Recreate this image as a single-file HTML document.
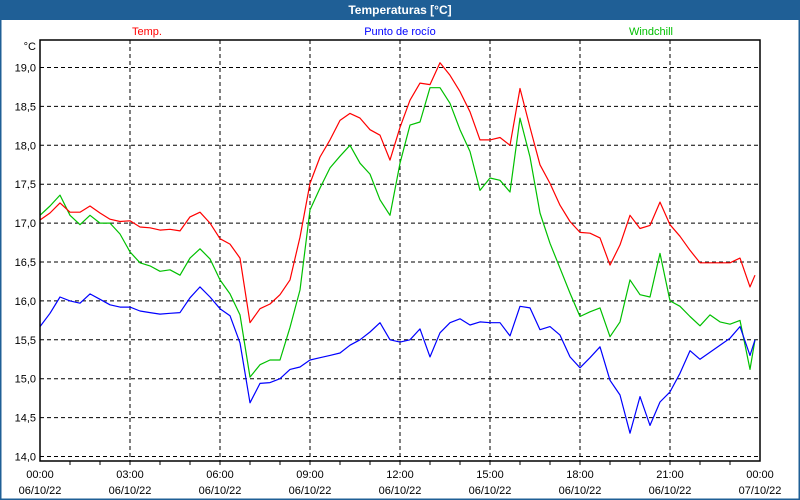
<!DOCTYPE html>
<html><head><meta charset="utf-8"><style>
html,body{margin:0;padding:0;background:#fff}
svg{display:block;font-family:"Liberation Sans",Tahoma,sans-serif}
</style></head><body>
<svg id="chart" width="800" height="500" viewBox="0 0 800 500">
<rect x="0" y="0" width="800" height="500" fill="#fff"/>
<rect x="0.5" y="0.5" width="799" height="499" fill="none" stroke="#1f5f96" stroke-width="2"/>
<rect x="0" y="0" width="800" height="20" fill="#1f5f96"/>
<text x="400" y="14" text-anchor="middle" font-size="12" font-weight="bold" fill="#fff">Temperaturas [°C]</text>
<text x="147" y="35" text-anchor="middle" font-size="11" fill="#ff0000">Temp.</text>
<text x="400" y="35" text-anchor="middle" font-size="11" fill="#0000ff">Punto de rocío</text>
<text x="651" y="35" text-anchor="middle" font-size="11" fill="#00c000">Windchill</text>
<text x="36" y="50" text-anchor="end" font-size="11" fill="#000">°C</text>
<g id="grid"></g>
<g id="series"></g>
<g id="axes"></g>
</svg>
<script>
const times = [];
for (let m = 0; m <= 1420; m += 20) times.push(m);
times.push(1430);
const tempValues = [17.04,17.13,17.26,17.14,17.14,17.22,17.13,17.05,17.02,17.03,16.95,16.94,16.91,16.92,16.9,17.08,17.14,17.0,16.8,16.73,16.55,15.72,15.9,15.96,16.08,16.27,16.82,17.51,17.85,18.07,18.32,18.41,18.35,18.2,18.13,17.81,18.23,18.58,18.8,18.78,19.06,18.9,18.69,18.43,18.07,18.07,18.1,18.0,18.73,18.23,17.75,17.51,17.23,17.02,16.88,16.87,16.81,16.46,16.72,17.1,16.93,16.97,17.27,16.98,16.83,16.65,16.49,16.49,16.49,16.49,16.55,16.18,16.33];
const dewValues = [15.67,15.84,16.05,16.0,15.97,16.09,16.02,15.95,15.92,15.92,15.87,15.85,15.83,15.84,15.85,16.04,16.18,16.05,15.9,15.81,15.46,14.69,14.94,14.95,15.0,15.12,15.15,15.24,15.27,15.3,15.33,15.43,15.5,15.6,15.72,15.5,15.47,15.5,15.64,15.28,15.59,15.72,15.77,15.69,15.73,15.72,15.72,15.55,15.93,15.91,15.63,15.67,15.56,15.28,15.14,15.27,15.41,14.98,14.79,14.3,14.77,14.4,14.7,14.83,15.07,15.36,15.25,15.34,15.43,15.52,15.67,15.3,15.5];
const windValues = [17.1,17.22,17.36,17.1,16.98,17.1,17.0,17.0,16.86,16.63,16.49,16.45,16.38,16.4,16.33,16.55,16.67,16.54,16.27,16.09,15.82,15.02,15.18,15.24,15.24,15.66,16.14,17.17,17.45,17.71,17.86,18.0,17.77,17.63,17.3,17.1,17.77,18.26,18.3,18.74,18.74,18.54,18.2,17.92,17.42,17.58,17.55,17.4,18.35,17.85,17.13,16.74,16.42,16.1,15.8,15.86,15.91,15.54,15.73,16.27,16.08,16.05,16.61,16.0,15.93,15.8,15.68,15.82,15.73,15.7,15.75,15.12,15.5];
const yTicks = [14.0,14.5,15.0,15.5,16.0,16.5,17.0,17.5,18.0,18.5,19.0];
const yTickLabels = ["14,0","14,5","15,0","15,5","16,0","16,5","17,0","17,5","18,0","18,5","19,0"];
const xTicks = [0,180,360,540,720,900,1080,1260,1440];
const xTimeLabels = ["00:00","03:00","06:00","09:00","12:00","15:00","18:00","21:00","00:00"];
const xDateLabels = ["06/10/22","06/10/22","06/10/22","06/10/22","06/10/22","06/10/22","06/10/22","06/10/22","07/10/22"];

const NS = "http://www.w3.org/2000/svg";
const L = 40, R = 760, T = 40, B = 461;
function xs(m){ return L + (m/1440)*(R-L); }
function ys(v){ return 456.5 - (v-14)*77.8; }
function mk(tag, attrs, parent){ const e=document.createElementNS(NS,tag); for(const k in attrs) e.setAttribute(k,attrs[k]); parent.appendChild(e); return e; }

const grid = document.getElementById('grid');
yTicks.forEach((v,i)=>{
  const ln = mk('line',{x1:L,x2:R,y1:ys(v),y2:ys(v),stroke:'#000','stroke-width':1,'stroke-dasharray':'4,3'},grid);
  
  
  const t = mk('text',{x:36,y:ys(v)+4,'text-anchor':'end','font-size':11,fill:'#000'},grid);
  t.textContent = yTickLabels[i];
  
  
});
xTicks.forEach((m,i)=>{
  if(i>0 && i<xTicks.length-1){
    const ln = mk('line',{x1:xs(m),x2:xs(m),y1:T,y2:B,stroke:'#000','stroke-width':1,'stroke-dasharray':'4,3'},grid);
    
    
  }
  const t1 = mk('text',{x:xs(m),y:478,'text-anchor':'middle','font-size':11,fill:'#000'},grid);
  t1.textContent = xTimeLabels[i];
  
  
  const t2 = mk('text',{x:xs(m),y:494,'text-anchor':'middle','font-size':11,fill:'#000'},grid);
  t2.textContent = xDateLabels[i];
  
  
});
const axes = document.getElementById('axes');
const frame = mk('rect',{x:L,y:T,width:R-L,height:B-T,fill:'none',stroke:'#000','stroke-width':1.5},axes);


for(let h=1; h<24; h++){
  const tk = mk('line',{x1:xs(h*60),x2:xs(h*60),y1:B,y2:B+4,stroke:'#000','stroke-width':1},axes);
  
  
}
const series = document.getElementById('series');
function drawLine(vals, color, name){
  const pts = vals.map((v,i)=>xs(times[i]).toFixed(1)+','+ys(v).toFixed(1)).join(' ');
  const p = mk('polyline',{points:pts,fill:'none',stroke:color,'stroke-width':1.2,'stroke-linejoin':'round'},series);
  
  
}
drawLine(windValues,'#00c000','windchill-line');
drawLine(tempValues,'#ff0000','temp-line');
drawLine(dewValues,'#0000ff','dew-point-line');
</script>
</body></html>
